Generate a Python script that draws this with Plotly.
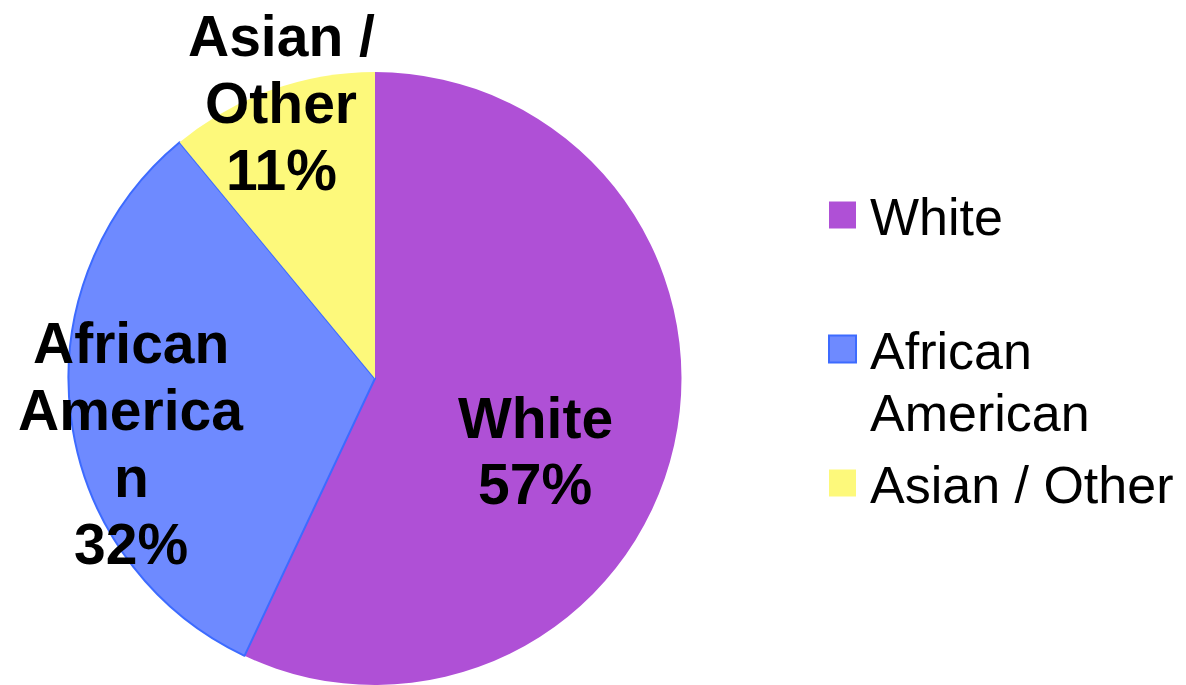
import plotly.graph_objects as go

# ---- data ----
labels = ["White", "African American", "Asian / Other"]
values = [57, 32, 11]
colors = ["#AF50D6", "#6E8AFF", "#FDF97B"]
border_colors = ["#AF50D6", "#3D6BFF", "#FDF97B"]
border_widths = [0, 2, 0]
# wrapped label lines as shown on the pie
pie_label_lines = [["White"], ["African", "America", "n"], ["Asian /", "Other"]]
legend_label_lines = [["White"], ["African", "American"], ["Asian / Other"]]

W, H = 1186, 685
FONT = "Liberation Sans, Arial, sans-serif"

fig = go.Figure()
fig.add_trace(go.Pie(
    labels=labels, values=values, sort=False, direction="clockwise", rotation=0,
    marker=dict(colors=colors, line=dict(color=border_colors, width=border_widths)),
    textinfo="none", hoverinfo="label+percent", showlegend=False,
    domain=dict(x=[68.5 / W, 681.5 / W], y=[0, (H - 72) / H]),
))

annotations = []
shapes = []

def px_x(x):
    return x / W

def px_y(y):
    return 1 - y / H

# pie labels (layout positions in pixels: center x, center y of text block)
pie_label_pos = [(535, 451), (131, 443), (281, 103)]
line_h = 67
total = sum(values)
for lines, v, (cx, cy) in zip(pie_label_lines, values, pie_label_pos):
    all_lines = lines + [f"{round(100 * v / total)}%"]
    n = len(all_lines)
    for i, t in enumerate(all_lines):
        y = cy + (i - (n - 1) / 2) * line_h
        annotations.append(dict(
            x=px_x(cx), y=px_y(y), xref="paper", yref="paper", text=t,
            showarrow=False, xanchor="center", yanchor="middle",
            font=dict(family=FONT, size=57, color="black", weight="bold"),
        ))

# legend (manual)
legend_square_y = [215, 349, 483]
legend_line_h = 62
for lines, c, bc, sy in zip(legend_label_lines, colors, border_colors, legend_square_y):
    shapes.append(dict(
        type="rect", xref="paper", yref="paper",
        x0=px_x(829), x1=px_x(856), y0=px_y(sy - 13.5), y1=px_y(sy + 13.5),
        fillcolor=c, line=dict(color=bc, width=2 if bc != c else 0),
    ))
    for i, t in enumerate(lines):
        annotations.append(dict(
            x=px_x(868), y=px_y(sy + i * legend_line_h + 2), xref="paper", yref="paper",
            text=t, showarrow=False, xanchor="left", yanchor="middle",
            font=dict(family=FONT, size=52, color="black"),
        ))

fig.update_layout(
    width=W, height=H, margin=dict(l=0, r=0, t=0, b=0),
    paper_bgcolor="white", plot_bgcolor="white",
    annotations=annotations, shapes=shapes,
)

fig.write_html(
    "out.html",
    config={"displayModeBar": False},
    post_script="document.body.style.margin='0px';document.body.style.overflow='hidden';",
)
